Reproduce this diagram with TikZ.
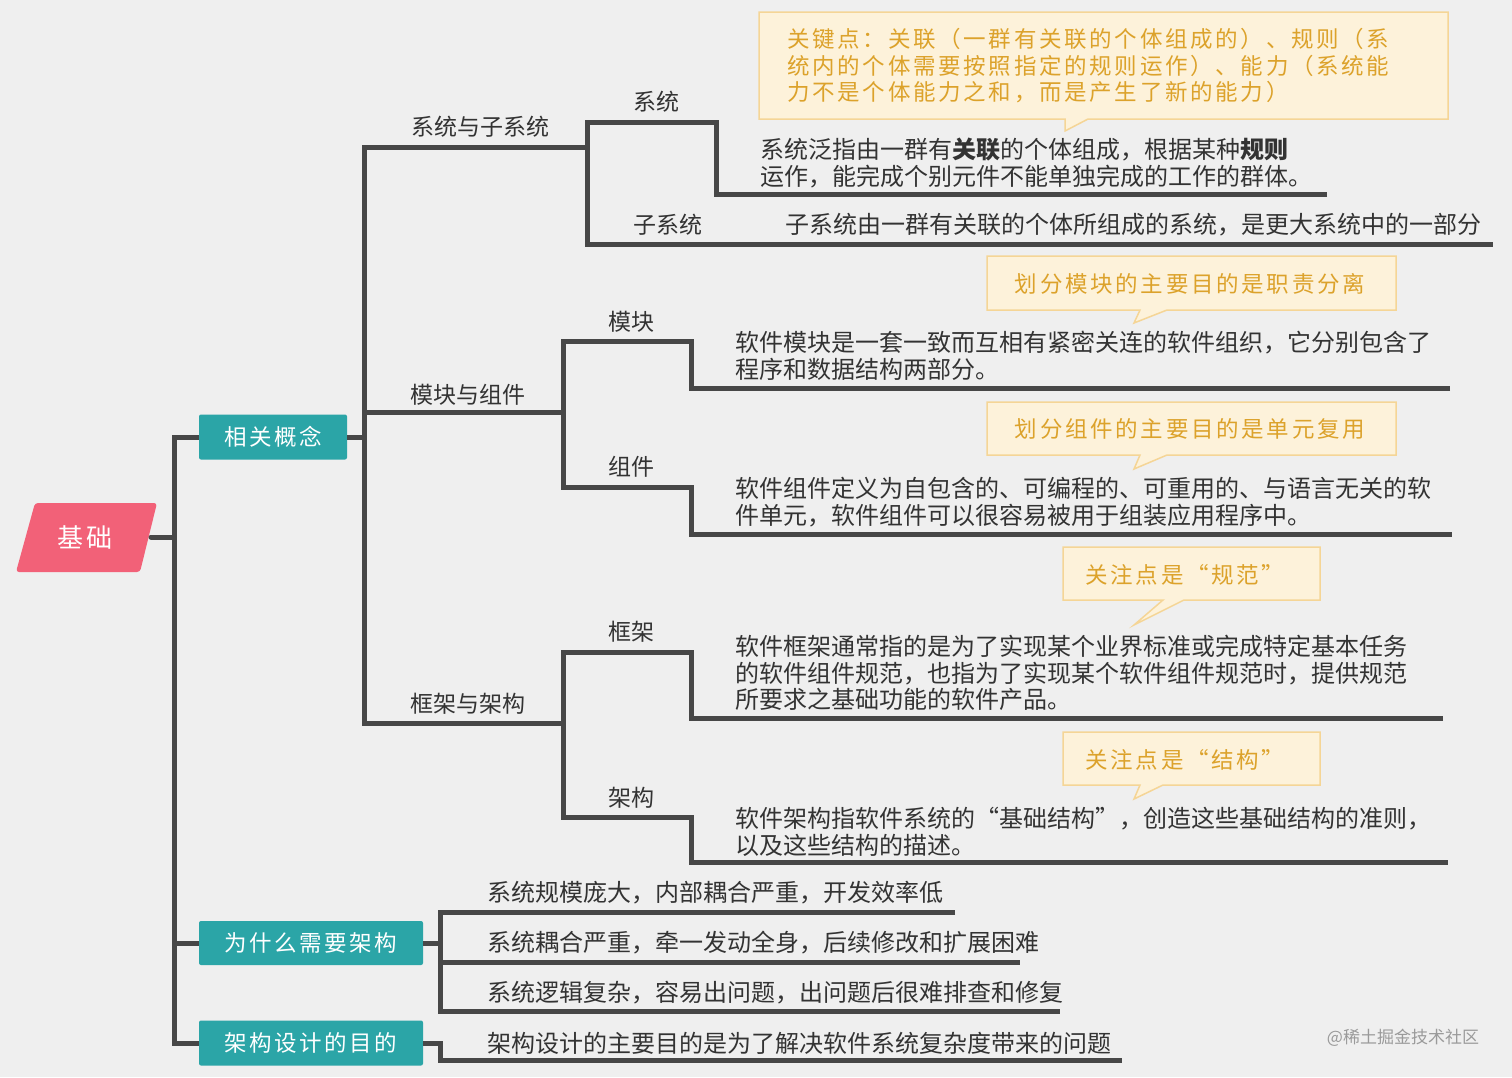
\documentclass[tikz,border=0pt]{standalone}
\usepackage{fontspec}
\setmainfont{Noto Sans CJK SC}
\newfontfamily\spaced{Noto Sans CJK SC}[LetterSpace=11]
\newfontfamily\cspaced{Noto Sans CJK SC}[LetterSpace=12]
\usetikzlibrary{calc}
\definecolor{bgc}{HTML}{EFEFEF}
\definecolor{linec}{HTML}{474747}
\definecolor{tealc}{HTML}{2BA5A7}
\definecolor{pinkc}{HTML}{F26178}
\definecolor{cfill}{HTML}{FDF2DA}
\definecolor{cborder}{HTML}{F5D596}
\definecolor{ctext}{HTML}{DCA22B}
\definecolor{txtc}{HTML}{333333}
\definecolor{wmc}{HTML}{9A9A9A}
\tikzset{
  tree/.style={draw=linec, line width=5pt, line join=miter},
  tbox/.style={fill=tealc, rounded corners=2pt, text=white, inner sep=0pt,
    font=\spaced\fontsize{22.5}{26}\selectfont},
  lbl/.style={text=txtc, inner sep=0pt, font=\fontsize{23}{27}\selectfont},
  body/.style={text=txtc, inner sep=0pt, anchor=west, align=left, font=\fontsize{24}{26.5}\selectfont},
  cbox/.style={fill=cfill, draw=cborder, line width=1.5pt, line join=miter},
  ctxt/.style={text=ctext, inner sep=0pt, align=left, font=\cspaced\fontsize{22.5}{26.5}\selectfont},
}
\begin{document}
\begin{tikzpicture}[x=1pt,y=-1pt]
\useasboundingbox (0,0) rectangle (1512,1077);
\fill[bgc] (0,0) rectangle (1512,1077);

% ---- root ----
\fill[pinkc, rounded corners=3pt] (35,503) -- (157,503) -- (140,572) -- (16,572) -- cycle;
\node[text=white, inner sep=0pt, font=\spaced\fontsize{26}{30}\selectfont] (root) at (85,537) {基础};
\coordinate (rootr) at (151,537);

% ---- level 1 boxes ----
\node[tbox, minimum width=148pt, minimum height=45pt] (xg) at (273,437) {相关概念};
\node[tbox, minimum width=224pt, minimum height=44pt] (why) at (311,943) {为什么需要架构};
\node[tbox, minimum width=224pt, minimum height=45pt] (mb) at (311,1043) {架构设计的目的};

\draw[tree, line cap=round] (rootr) -- (174,537);
\draw[tree] (xg.west) -- (174,437) |- (mb.west);
\draw[tree] (174,943) -- (why.west);

% ---- 相关概念 subtree ----
\coordinate (a1) at (587,147);
\coordinate (a2) at (563,412);
\coordinate (a3) at (563,723);
\draw[tree] (xg.east) -- (364,437);
\draw[tree] (a1) -| (364,723) -- (a3);
\draw[tree] (364,412) -- (a2);
\node[lbl] (l1) at (480,127) {系统与子系统};
\node[lbl] (l2) at (468,395) {模块与组件};
\node[lbl] (l3) at (468,704) {框架与架构};

% 系统 / 子系统
\draw[tree] (1327,194) -- (716,194) |- (587,122) |- (1493,244);
\node[lbl] (s1) at (656,102) {系统};
\node[body] (s1t) at (760,163) {系统泛指由一群有\textbf{关联}的个体组成，根据某种\textbf{规则}\\运作，能完成个别元件不能单独完成的工作的群体。};
\node[lbl] (s2) at (668,225) {子系统};
\node[body] (s2t) at (785,225) {子系统由一群有关联的个体所组成的系统，是更大系统中的一部分};

% 模块 / 组件
\draw[tree] (1450,388) -- (691,388) |- (563,341) |- (691,487) |- (1452,534);
\node[lbl] (m1) at (631,322) {模块};
\node[body] (m1t) at (735,356) {软件模块是一套一致而互相有紧密关连的软件组织，它分别包含了\\程序和数据结构两部分。};
\node[lbl] (m2) at (631,467) {组件};
\node[body] (m2t) at (735,502) {软件组件定义为自包含的、可编程的、可重用的、与语言无关的软\\件单元，软件组件可以很容易被用于组装应用程序中。};

% 框架 / 架构
\draw[tree] (1443,718) -- (691,718) |- (563,652) |- (691,817) |- (1448,862);
\node[lbl] (f1) at (631,632) {框架};
\node[body] (f1t) at (735,673) {软件框架通常指的是为了实现某个业界标准或完成特定基本任务\\的软件组件规范，也指为了实现某个软件组件规范时，提供规范\\所要求之基础功能的软件产品。};
\node[lbl] (f2) at (631,798) {架构};
\node[body] (f2t) at (735,832) {软件架构指软件系统的“基础结构”，创造这些基础结构的准则，\\以及这些结构的描述。};

% ---- 为什么需要架构 subtree ----
\draw[tree] (why.east) -- (440,943);
\draw[tree] (955,912) -- (440,912) |- (1060,1011);
\draw[tree] (440,962) -- (1020,962);
\node[body] (w1) at (487,893) {系统规模庞大，内部耦合严重，开发效率低};
\node[body] (w2) at (487,943) {系统耦合严重，牵一发动全身，后续修改和扩展困难};
\node[body] (w3) at (487,993) {系统逻辑复杂，容易出问题，出问题后很难排查和修复};

% ---- 架构设计的目的 ----
\draw[tree] (mb.east) -- (440,1043) |- (1122,1060);
\node[body] (p1) at (487,1043) {架构设计的主要目的是为了解决软件系统复杂度带来的问题};

% ---- callouts ----
\draw[cbox] (759,12) -- (1448,12) -- (1448,119) -- (1088,119) -- (1065,131) -- (1065,119) -- (759,119) -- cycle;
\node[ctxt, anchor=west] (c1) at (787,66) {关键点：关联（一群有关联的个体组成的）、规则（系\\统内的个体需要按照指定的规则运作）、能力（系统能\\力不是个体能力之和，而是产生了新的能力）};

\draw[cbox] (987,256) -- (1396,256) -- (1396,310) -- (1167,310) -- (1134,323) -- (1140,310) -- (987,310) -- cycle;
\node[ctxt] (c2) at (1190,284) {划分模块的主要目的是职责分离};

\draw[cbox] (987,402) -- (1396,402) -- (1396,455) -- (1167,455) -- (1134,469) -- (1140,455) -- (987,455) -- cycle;
\node[ctxt] (c3) at (1190,429) {划分组件的主要目的是单元复用};

\draw[cbox] (1063,547) -- (1320,547) -- (1320,600) -- (1184,600) -- (1134,625) -- (1163,600) -- (1063,600) -- cycle;
\node[ctxt] (c4) at (1185,575) {关注点是“规范”};

\draw[cbox] (1063,732) -- (1320,732) -- (1320,785) -- (1163,785) -- (1134,799) -- (1140,785) -- (1063,785) -- cycle;
\node[ctxt] (c5) at (1185,760) {关注点是“结构”};

% watermark
\node[text=wmc, inner sep=0pt, font=\fontsize{17}{20}\selectfont] (wm) at (1403,1038) {@稀土掘金技术社区};
\end{tikzpicture}
\end{document}
